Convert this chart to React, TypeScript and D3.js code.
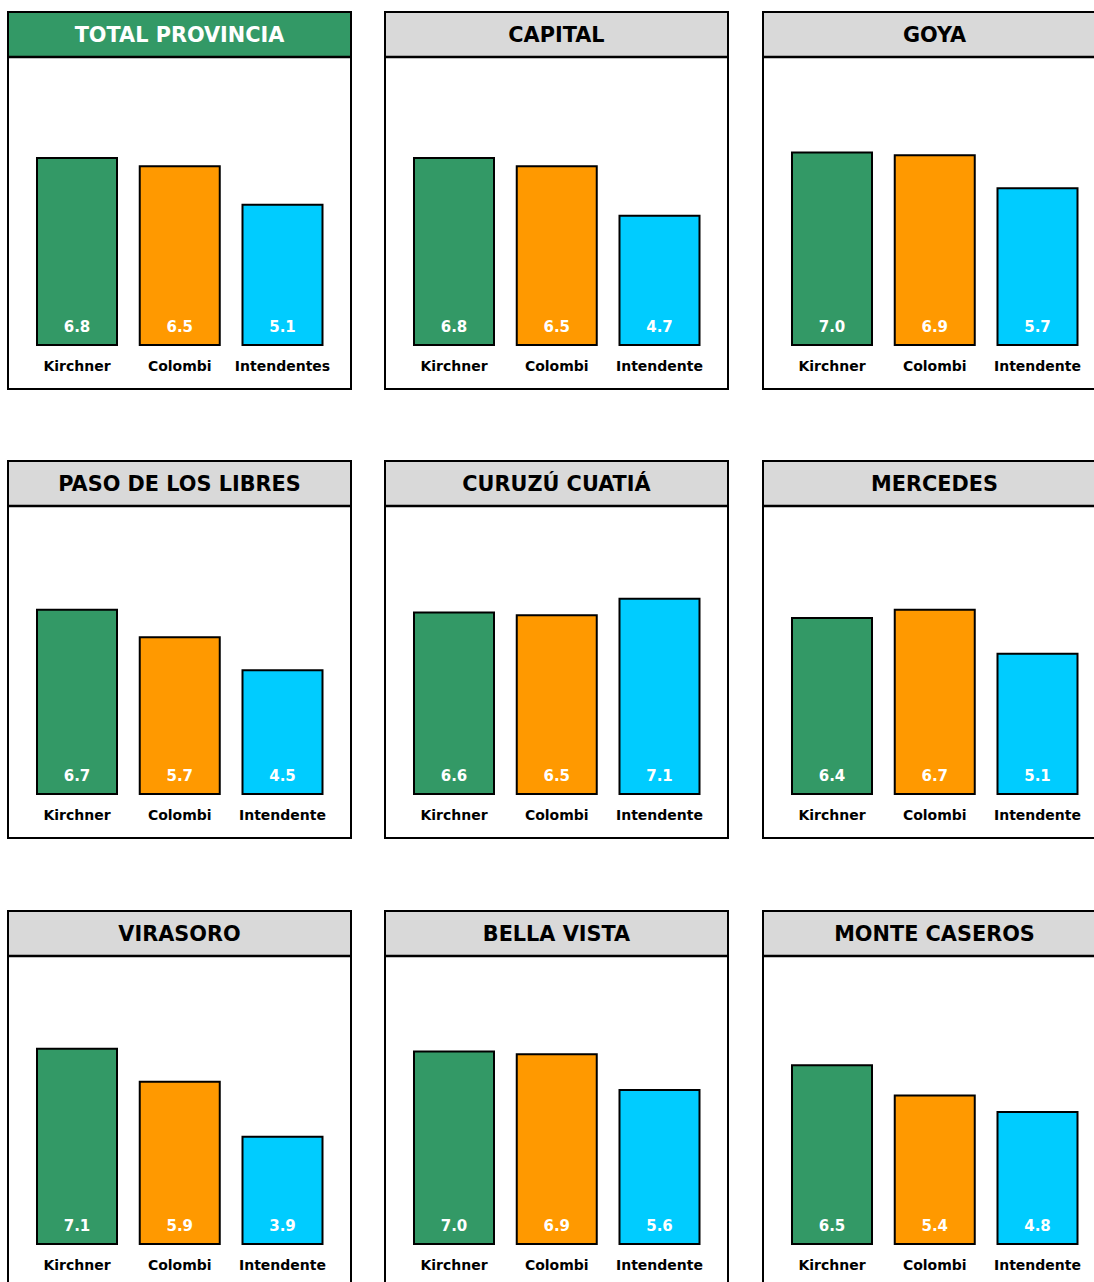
import React from "react";
import * as d3 from "d3";

const titles = [
  "TOTAL PROVINCIA",
  "CAPITAL",
  "GOYA",
  "PASO DE LOS LIBRES",
  "CURUZÚ CUATIÁ",
  "MERCEDES",
  "VIRASORO",
  "BELLA VISTA",
  "MONTE CASEROS",
];
const kirchner = [6.8, 6.8, 7.0, 6.7, 6.6, 6.4, 7.1, 7.0, 6.5];
const colombi = [6.5, 6.5, 6.9, 5.7, 6.5, 6.7, 5.9, 6.9, 5.4];
const intendente = [5.1, 4.7, 5.7, 4.5, 7.1, 5.1, 3.9, 5.6, 4.8];
const categoryLabelsFirst = ["Kirchner", "Colombi", "Intendentes"];
const categoryLabels = ["Kirchner", "Colombi", "Intendente"];
const barColors = ["#339966", "#FF9900", "#00CCFF"];

const FONT = "'DejaVu Sans', Verdana, sans-serif";
const W = 1094;
const H = 1282;
const panelW = 345;
const panelH = 379;
const headerH = 46;
const colX = [7, 384, 762];
const rowY = [11, 460, 910];
const baseOff = 334;

export default function App() {
  const x = d3
    .scaleBand<number>()
    .domain([0, 1, 2])
    .range([7.25, 338.25])
    .paddingInner(0.2214)
    .paddingOuter(0.2214);
  const y = d3.scaleLinear().domain([0, 10]).range([baseOff, baseOff - 275]);

  return (
    <svg
      width={W}
      height={H}
      style={{ position: "absolute", left: 0, top: 0 }}
      fontFamily={FONT}
    >
      <rect x={0} y={0} width={W} height={H} fill="#ffffff" />
      {titles.map((t, i) => {
        const px = colX[i % 3];
        const py = rowY[Math.floor(i / 3)];
        const vals = [kirchner[i], colombi[i], intendente[i]];
        const labels = i === 0 ? categoryLabelsFirst : categoryLabels;
        const first = i === 0;
        return (
          <g key={t} transform={`translate(${px},${py})`}>
            <rect x={1} y={1} width={panelW - 2} height={panelH - 2} fill="#fff" stroke="#000" strokeWidth={2} />
            <rect x={1} y={1} width={panelW - 2} height={headerH - 1} fill={first ? "#339966" : "#D9D9D9"} stroke="#000" strokeWidth={2} />
            <line x1={0} x2={panelW} y1={headerH} y2={headerH} stroke="#000" strokeWidth={2.5} />
            <text
              x={panelW / 2}
              y={31}
              textAnchor="middle"
              fontWeight="bold"
              fontSize={20.8}
              fill={first ? "#ffffff" : "#000000"}
            >
              {t}
            </text>
            {vals.map((v, j) => (
              <g key={j}>
                <rect
                  x={x(j)!}
                  y={y(v)}
                  width={x.bandwidth()}
                  height={baseOff - y(v)}
                  fill={barColors[j]}
                  stroke="#000"
                  strokeWidth={2}
                />
                <text
                  x={x(j)! + x.bandwidth() / 2}
                  y={baseOff - 13}
                  textAnchor="middle"
                  fontWeight="bold"
                  fontSize={15}
                  fill="#ffffff"
                >
                  {v.toFixed(1)}
                </text>
                <text
                  x={x(j)! + x.bandwidth() / 2}
                  y={baseOff + 26}
                  textAnchor="middle"
                  fontWeight="bold"
                  fontSize={14}
                  fill="#000000"
                >
                  {labels[j]}
                </text>
              </g>
            ))}
          </g>
        );
      })}
    </svg>
  );
}
